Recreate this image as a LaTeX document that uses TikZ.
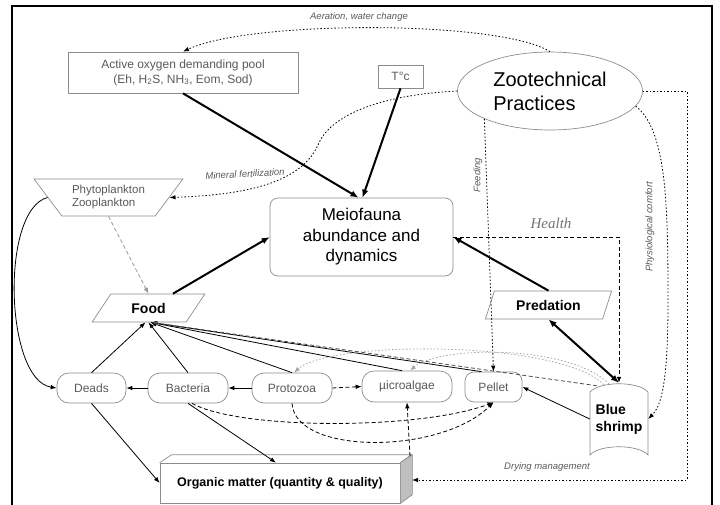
\documentclass[tikz,border=0pt]{standalone}
\usepackage{fontspec}
\setmainfont{Liberation Sans}
\newfontfamily\serifit{Liberation Serif}
\usetikzlibrary{shapes.geometric,arrows.meta}

\begin{document}
\begin{tikzpicture}[x=1pt,y=-1pt,
    nodeline/.style={draw=black!45, line width=0.7pt},
    plainbox/.style={nodeline, text=black!65, font=\fontsize{12}{15}\selectfont, align=center, inner sep=2pt},
    pill/.style={plainbox, rounded corners=12pt, minimum height=30pt},
    boldtext/.style={font=\fontsize{14}{17}\selectfont\bfseries},
    slanted/.style={trapezium, trapezium stretches=true, minimum height=28pt, nodeline, boldtext, inner sep=0pt},
    remark/.style={text=black!65, font=\fontsize{9.5}{11}\selectfont\itshape},
    link/.style={-{Latex[length=6pt,width=4.5pt]}, line width=0.8pt},
    heavylink/.style={-{Latex[length=8pt,width=6.5pt]}, line width=2pt},
    dotlink/.style={link, dash pattern=on 1.5pt off 2pt},
    dashlink/.style={link, dash pattern=on 4pt off 2.5pt},
  ]
  \useasboundingbox (0,0) rectangle (720,504);
  \draw[line width=1.2pt] (12,506) -- (12,6) -- (712,6) -- (712,506);

  \node[plainbox, minimum width=230pt, minimum height=41pt] (act) at (183,72.5) {Active oxygen demanding pool\\(Eh, H\textsubscript{2}S, NH\textsubscript{3}, Eom, Sod)};
  \node[plainbox, minimum width=45pt, minimum height=23pt] (temp) at (400.5,76.5) {T°c};
  \node[ellipse, nodeline, minimum width=185pt, minimum height=78pt, align=left, font=\fontsize{20}{24}\selectfont] (zoo) at (550,91) {Zootechnical\\Practices};
  \node[trapezium, trapezium angle=50.5, trapezium stretches=true, shape border rotate=180, minimum width=149pt, minimum height=37pt, plainbox, align=left, font=\fontsize{11.5}{13}\selectfont] (phyto) at (108.5,197.5) {Phytoplankton\\Zooplankton};
  \node[nodeline, rounded corners=8pt, minimum width=183pt, minimum height=78pt, align=center, font=\fontsize{17}{20.5}\selectfont] (meio) at (361.5,237) {Meiofauna\\abundance and\\dynamics};
  \node[slanted, trapezium left angle=50.5, trapezium right angle=129.5, minimum width=113pt] (food) at (148.5,308) {Food};
  \node[slanted, trapezium left angle=62.5, trapezium right angle=117.5, minimum width=127pt] (pred) at (548.5,305) {Predation};

  \node[pill, minimum width=69pt] (deads) at (91.5,388) {Deads};
  \node[pill, minimum width=80pt] (bact) at (188,388) {Bacteria};
  \node[pill, minimum width=80pt] (proto) at (292,388) {Protozoa};
  \node[pill, minimum width=90pt, minimum height=31pt] (micro) at (407,386.5) {µicroalgae};
  \node[pill, minimum width=57pt, rounded corners=9pt] (pellet) at (493.5,387) {Pellet};

  % shrimp banner
  \draw[nodeline] (590,455) -- (590,392) .. controls (600,381) and (638,381) .. (648,392) -- (648,455) .. controls (638,444) and (600,444) .. cycle;
  \node[boldtext, align=left, minimum width=58pt, minimum height=72pt] (shrimp) at (619,419) {Blue\\shrimp};

  % organic matter block
  \node[nodeline, minimum width=240pt, minimum height=40pt, font=\fontsize{12.5}{15}\selectfont\bfseries] (om) at (280,483) {Organic matter (quantity \& quality)};
  \draw[nodeline] (om.north west) -- ++(12,-8) -- ++(240,0) -- (om.north east);
  \draw[nodeline, fill=black!25] (om.north east) -- ++(12,-8) -- ++(0,40) -- (om.south east) -- cycle;
  \coordinate (omtop) at (410,456);
  \coordinate (omside) at (412,480);
  \coordinate (dry) at (687,480);

  \draw[heavylink] (act.south) -- ([xshift=-3pt]meio.north);
  \draw[heavylink] (temp.south) -- ([xshift=1pt]meio.north);
  \draw[heavylink] (food) -- (meio.west);
  \draw[heavylink] (pred.north) -- (meio.east);
  \draw[heavylink, {Latex[length=8pt,width=6.5pt]}-{Latex[length=8pt,width=6.5pt]}] (pred.south) -- (shrimp.north);

  \draw[dotlink] (zoo.north) .. controls (500,20) and (250,20) .. (act.north);
  \draw[dotlink] (zoo.west) .. controls (380,95) and (330,115) .. (318,145) .. controls (300,185) and (240,195) .. (phyto.east);
  \draw[dotlink] (zoo.south west) -- (pellet.north);
  \draw[dashlink] (meio.east) -| (shrimp.north);
  \draw[dotlink] (zoo.350) .. controls (666,130) and (668,200) .. (668,300) .. controls (668,380) and (662,405) .. (shrimp.east);
  \draw[dotlink] (zoo.east) -| (dry) -- (omside);

  \draw[dashlink, black!40] (phyto.south) -- (food.north);
  \draw[link] (phyto.west) .. controls (0,210) and (5,380) .. (deads.west);
  \draw[link] (deads.north) -- ([xshift=-3pt]food.south);
  \draw[link] (bact.north) -- (food.south);
  \draw[link] (proto.north) -- ([xshift=2pt]food.south);
  \draw[link] ([xshift=-5pt]micro.north) -- ([xshift=2pt]food.south);
  \draw[link] ([xshift=-12pt]pellet.north) -- ([xshift=2pt]food.south);
  \draw[dashlink, black!70] ([shift={(-22pt,-3pt)}]shrimp.north) -- ([xshift=3pt]food.south);
  \draw[dotlink, black!35] ([shift={(-15pt,-2pt)}]shrimp.north) .. controls (560,340) and (330,340) .. ([xshift=2pt]proto.north);
  \draw[dotlink, black!35] ([shift={(-10pt,-1pt)}]shrimp.north) .. controls (570,345) and (440,345) .. ([xshift=3pt]micro.north);

  \draw[link] (proto.west) -- (bact.east);
  \draw[link] (bact.west) -- (deads.east);
  \draw[dashlink] (proto.east) -- (micro.west);
  \draw[link] (shrimp.west) -- (pellet.east);
  \draw[link] (deads.south) -- (om.west);
  \draw[link] (bact.south) -- ([xshift=-4pt]om.north);
  \draw[dashlink] ([xshift=4pt]bact.south) .. controls (240,430) and (420,430) .. (pellet.south);
  \draw[dashlink] (proto.south) .. controls (295,455) and (440,455) .. (pellet.south);
  \draw[dashlink] (omtop) -- (micro.south);

  \node[remark] (aer) at (359,17) {Aeration, water change};
  \node[remark, rotate=3] (minf) at (245,174) {Mineral fertilization};
  \node[remark, rotate=90] (feed) at (478,175) {Feeding};
  \node[text=black!55, font=\fontsize{15}{18}\selectfont\serifit\itshape] (health) at (551,223) {Health};
  \node[remark, rotate=90] (phys) at (650,227) {Physiological comfort};
  \node[remark] (drym) at (547,467) {Drying management};
\end{tikzpicture}
\end{document}
